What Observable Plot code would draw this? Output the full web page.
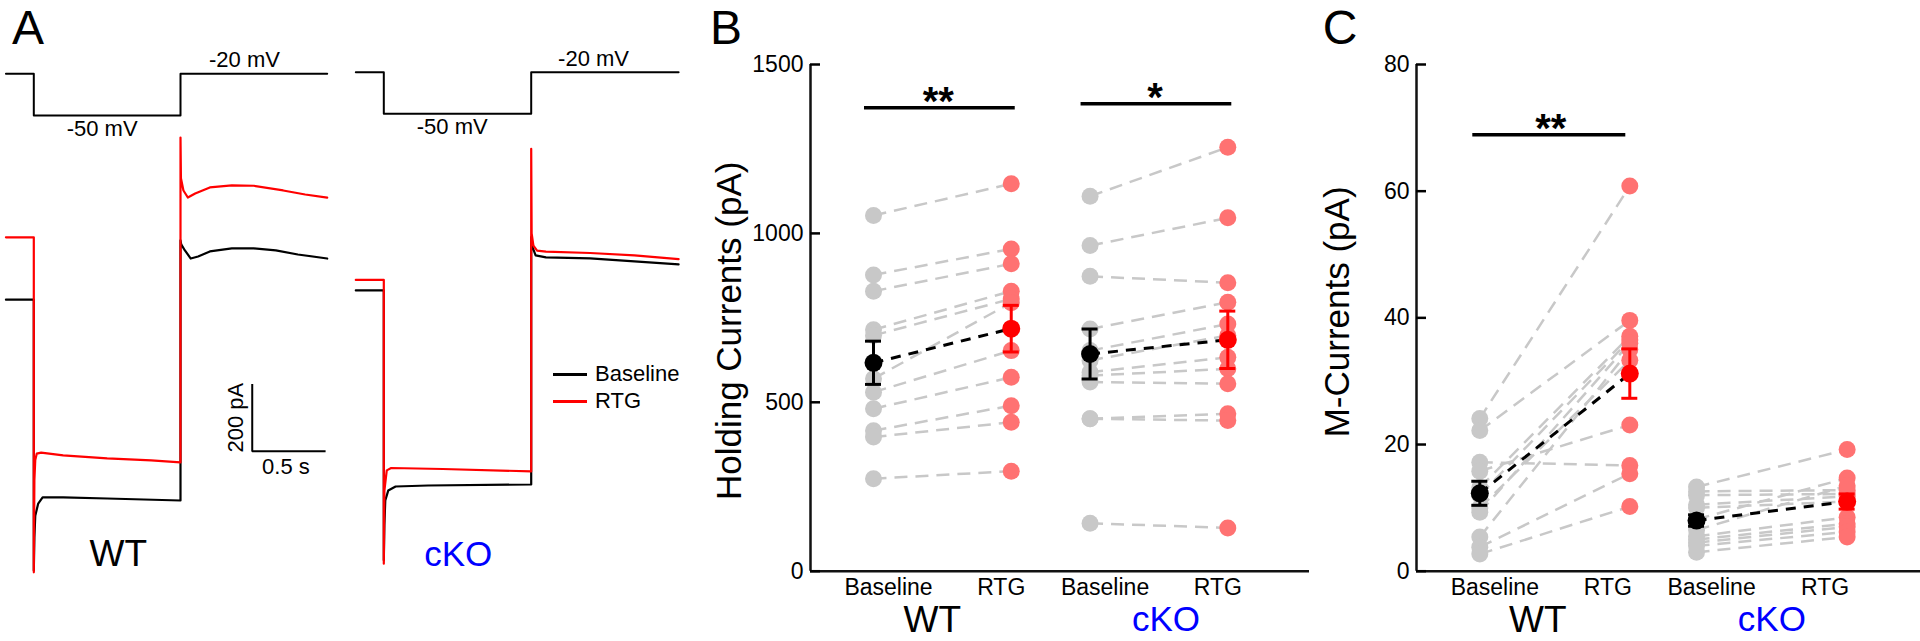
<!DOCTYPE html>
<html><head><meta charset="utf-8">
<script src="https://cdn.jsdelivr.net/npm/d3@7"></script>
<script src="https://cdn.jsdelivr.net/npm/@observablehq/plot@0.6"></script>
<style>
html,body{margin:0;padding:0;background:#fff;}
#fig{position:relative;width:1920px;height:641px;overflow:hidden;font-family:"Liberation Sans",Arial,Helvetica,sans-serif;background:#fff;}
.lbl{position:absolute;line-height:1;white-space:nowrap;}
</style></head><body><div id="fig"></div>
<script>
// ---------------- DATA ----------------
// Panel A: voltage protocol (time s, mV)
const stepProtocol = [[-0.19,-20],[0,-20],[0,-50],[1,-50],[1,-20],[2,-20]];
const stepLabelsWT = [{t:0.466, v:-50, text:"-50 mV"}, {t:1.436, v:-20, text:"-20 mV"}];
const stepLabelsKO = [{t:0.464, v:-50, text:"-50 mV"}, {t:1.423, v:-20, text:"-20 mV"}];
// Panel A: example current traces (time s, current pA)
const wtBaselineTrace = [[-0.19,596],[0,596],[0,-208],[0.004,-110],[0.01,-45],[0.03,-9],[0.06,9],[0.2,9],[0.5,6],[1.0,0],[1.0,772],[1.005,760],[1.03,742],[1.07,718],[1.12,724],[1.2,739],[1.35,748],[1.5,748],[1.65,742],[1.8,730],[2.0,718]];
const wtRtgTrace = [[-0.19,781],[0,781],[0,-213],[0.004,60],[0.01,120],[0.02,139],[0.05,142],[0.2,134],[0.5,125],[0.8,119],[1.0,113],[1.0,1077],[1.003,956],[1.02,920],[1.05,899],[1.1,911],[1.2,929],[1.35,935],[1.5,934],[1.7,920],[1.85,908],[2.0,899]];
const koBaselineTrace = [[-0.19,576],[0,576],[0,-225],[0.004,-120],[0.01,-47],[0.03,-18],[0.08,-6],[0.3,-3],[1.0,0],[1.0,734],[1.005,709],[1.03,680],[1.1,674],[1.4,671],[1.7,662],[2.0,653]];
const koRtgTrace = [[-0.19,607],[0,607],[0,-235],[0.004,-18],[0.02,42],[0.05,49],[0.4,46],[1.0,39],[1.0,996],[1.003,745],[1.015,709],[1.04,694],[1.1,691],[1.4,687],[1.7,680],[2.0,669]];
const scaleBarOrigin = [1.489, 146];
const scaleBarTime = 0.5;      // s
const scaleBarCurrent = 200;   // pA

// Panel B: holding currents (pA)
const holdWTBase = [1053, 877, 829, 715, 698, 570, 530, 481, 416, 397, 274];
const holdWTRtg  = [1147, 954, 910, 829, 806, 795, 653, 574, 490, 441, 296];
const holdKOBase = [1110, 964, 873, 717, 653, 624, 589, 579, 560, 451, 451, 142];
const holdKORtg  = [1255, 1046, 854, 796, 732, 698, 633, 599, 555, 466, 446, 128];
const holdMeans = [617, 718, 643, 685];   // WT Baseline, WT RTG, cKO Baseline, cKO RTG
const holdErrs  = [64, 69, 74, 85];
const holdTicks = [0, 500, 1000, 1500];
const holdSig = [{g:"WT", y:1372, label:"**"}, {g:"cKO", y:1384, label:"*"}];

// Panel C: M-currents (pA)
const mcurWTBase = [24.1, 22.2, 17.2, 15.8, 13.2, 12.0, 10.0, 9.3, 5.4, 3.8, 2.7];
const mcurWTRtg  = [60.8, 39.6, 16.7, 23.1, 37.1, 36.5, 33.3, 36.0, 35.0, 15.4, 10.2];
const mcurKOBase = [13.3, 12.6, 12.0, 10.5, 10.0, 8.2, 6.5, 5.5, 5.0, 4.5, 4.0, 3.0];
const mcurKORtg  = [19.2, 12.8, 12.2, 11.8, 11.0, 14.7, 13.5, 8.5, 7.5, 7.0, 6.2, 5.4];
const mcurMeans = [12.3, 31.2, 8.0, 11.0];
const mcurErrs  = [1.9, 3.9, 0.9, 1.2];
const mcurTicks = [0, 20, 40, 60, 80];
const mcurSig = [{g:"WT", y:68.9, label:"**"}];

const groups = ["WT", "cKO"];
const conditions = ["Baseline", "RTG"];

// ---------------- RENDER ----------------
const FONT = '"Liberation Sans", Arial, Helvetica, sans-serif';
const GRAY = "#c8c8c8", PINK = "#ff7272", RED = "#ff0000", BLUE = "#0000ff";
const fig = document.getElementById("fig");
function add(node){ node.style.position="absolute"; node.style.left="0px"; node.style.top="0px"; fig.appendChild(node); }
function P(opts){
  return Plot.plot(Object.assign({width:1920, height:641, style:{background:"transparent", fontFamily:FONT, overflow:"visible"}}, opts));
}
function label(text, x, y, size, color, align){
  const d = document.createElement("div");
  d.className = "lbl"; d.textContent = text;
  d.style.left = x+"px"; d.style.top = y+"px"; d.style.fontSize = size+"px"; d.style.color = color||"#000";
  d.style.transform = align === "left" ? "translate(0,-50%)" : "translate(-50%,-50%)";
  fig.appendChild(d);
}

// ---- Panel A ----
function stepPlot(mL, mR, mT, mB, labels){
  return P({marginLeft:mL, marginRight:mR, marginTop:mT, marginBottom:mB,
    x:{domain:[-0.19,2.0], axis:null}, y:{domain:[-60,-10], axis:null},
    marks:[
      Plot.line(stepProtocol, {x:d=>d[0], y:d=>d[1], stroke:"black", strokeWidth:2}),
      Plot.text(labels.filter(d=>d.v===-50), {x:"t", y:"v", text:"text", fontSize:22, dy:13.5}),
      Plot.text(labels.filter(d=>d.v===-20), {x:"t", y:"v", text:"text", fontSize:22, dy:-13.5})
    ]});
}
function tracePlot(mL, mR, mT, mB, baseTr, rtgTr, extra){
  return P({marginLeft:mL, marginRight:mR, marginTop:mT, marginBottom:mB,
    x:{domain:[-0.19,2.0], axis:null}, y:{domain:[-250,1150], axis:null},
    marks:[
      Plot.line(baseTr, {x:d=>d[0], y:d=>d[1], stroke:"black", strokeWidth:2.2}),
      Plot.line(rtgTr, {x:d=>d[0], y:d=>d[1], stroke:RED, strokeWidth:2.2}),
      ...(extra||[])
    ]});
}
const [sbT, sbI] = scaleBarOrigin;
const scaleBarMarks = [
  Plot.line([[sbT, sbI+scaleBarCurrent],[sbT, sbI],[sbT+scaleBarTime, sbI]], {x:d=>d[0], y:d=>d[1], stroke:"black", strokeWidth:2, strokeLinejoin:"miter", strokeLinecap:"butt"}),
  Plot.text([scaleBarCurrent+" pA"], {x:()=>sbT, y:()=>sbI+scaleBarCurrent/2, rotate:-90, dx:-16.5, fontSize:22}),
  Plot.text([scaleBarTime+" s"], {x:()=>sbT+scaleBarTime/2, y:()=>sbI, dy:16, dx:-3, fontSize:22})
];
// WT: x = 33.3 + 146.7 t ; y = 500 - 0.337 I
add(stepPlot(5.43, 1920-326.7, 59.4, 641-128.9, stepLabelsWT));
add(tracePlot(5.43, 1920-326.7, 112.45, 641-584.25, wtBaselineTrace, wtRtgTrace, scaleBarMarks));
// cKO: x = 383.3 + 147.4 t ; y = 484 - 0.337 I
add(stepPlot(355.3, 1920-678.1, 57.8, 641-127.2, stepLabelsKO));
add(tracePlot(355.3, 1920-678.1, 96.45, 641-568.25, koBaselineTrace, koRtgTrace));

label("WT", 118.3, 553, 37, "#000");
label("cKO", 458.3, 553, 35, BLUE);
// legend
function swatch(x1, x2, y, color){
  const d = document.createElement("div");
  d.style.position="absolute"; d.style.left=x1+"px"; d.style.top=(y-1.5)+"px";
  d.style.width=(x2-x1)+"px"; d.style.height="3px"; d.style.background=color;
  fig.appendChild(d);
}
swatch(553, 587, 374, "#000"); label(conditions[0], 595, 374, 22, "#000", "left");
swatch(553, 587, 401, RED);    label(conditions[1], 595, 401, 22, "#000", "left");

// ---- Paired panels ----
function paired(cfg){
  const {wtBase, wtRtg, koBase, koRtg, means, errs, ticks, yDomain, pos, xDomain, mL, mR, title, tDx, tDy, sig, sigInsetL, sigInsetR, rtgDx, grpDx} = cfg;
  const cats = groups.flatMap(g => conditions.map(c => g+" "+c));
  const pairs = [...wtBase.map((b,i)=>({g:"WT", b, r:wtRtg[i]})), ...koBase.map((b,i)=>({g:"cKO", b, r:koRtg[i]}))];
  const basePts = pairs.map(p=>({c:p.g+" Baseline", v:p.b}));
  const rtgPts = pairs.map(p=>({c:p.g+" RTG", v:p.r}));
  const meanRows = cats.map((c,i)=>({c, m:means[i], e:errs[i], rtg:c.endsWith("RTG")}));
  const meanPairs = groups.map((g,i)=>({g, b:means[2*i], r:means[2*i+1]}));
  const caps = meanRows.flatMap(d=>[{...d, y:d.m+d.e},{...d, y:d.m-d.e}]);
  const y0 = () => yDomain[0];
  const errMarks = (rtg, color) => [
    Plot.ruleX(meanRows.filter(d=>d.rtg===rtg), {x:d=>pos[d.c], y1:d=>d.m-d.e, y2:d=>d.m+d.e, stroke:color, strokeWidth:3}),
    Plot.ruleY(caps.filter(d=>d.rtg===rtg), {x1:d=>pos[d.c], x2:d=>pos[d.c], y:"y", stroke:color, strokeWidth:3, insetLeft:-8, insetRight:-8}),
  ];
  return P({marginLeft:mL, marginRight:mR, marginTop:64, marginBottom:641-570.7,
    x:{domain:xDomain, axis:null}, y:{domain:yDomain},
    marks:[
      Plot.ruleY([yDomain[0]], {stroke:"#111", strokeWidth:2.5}),
      Plot.ruleX([xDomain[0]], {stroke:"#111", strokeWidth:2.5}),
      Plot.axisY({ticks, tickSize:-10, tickPadding:17, fontSize:23, label:null, strokeWidth:2.5, tickFormat:d=>String(d)}),
      Plot.link(pairs, {x1:d=>pos[d.g+" Baseline"], y1:"b", x2:d=>pos[d.g+" RTG"], y2:"r", stroke:GRAY, strokeWidth:2.5, strokeDasharray:"13,8"}),
      Plot.dot(basePts, {x:d=>pos[d.c], y:"v", r:8.5, fill:GRAY}),
      Plot.dot(rtgPts, {x:d=>pos[d.c], y:"v", r:8.5, fill:PINK}),
      Plot.link(meanPairs, {x1:d=>pos[d.g+" Baseline"], y1:"b", x2:d=>pos[d.g+" RTG"], y2:"r", stroke:"black", strokeWidth:3, strokeDasharray:"10,8"}),
      ...errMarks(false, "black"),
      ...errMarks(true, RED),
      Plot.dot(meanRows.filter(d=>!d.rtg), {x:d=>pos[d.c], y:"m", r:9, fill:"black"}),
      Plot.dot(meanRows.filter(d=>d.rtg), {x:d=>pos[d.c], y:"m", r:9, fill:RED}),
      Plot.ruleY(sig, {x1:d=>pos[d.g+" Baseline"], x2:d=>pos[d.g+" RTG"], y:"y", stroke:"black", strokeWidth:3.5, insetLeft:sigInsetL, insetRight:sigInsetR}),
      Plot.text(sig, {x:d=>(pos[d.g+" Baseline"]+pos[d.g+" RTG"])/2, y:"y", text:"label", fontSize:40, fontWeight:"bold", lineAnchor:"bottom", dy:7, dx:-4}),
      Plot.text(cats.filter(c=>c.endsWith("Baseline")), {x:c=>pos[c], y:y0, text:()=>conditions[0], fontSize:23, dy:16, dx:15}),
      Plot.text(cats.filter(c=>c.endsWith("RTG")), {x:c=>pos[c], y:y0, text:()=>conditions[1], fontSize:23, dy:16, dx:rtgDx}),
      Plot.text(["WT"], {x:g=>(pos[g+" Baseline"]+pos[g+" RTG"])/2, y:y0, fontSize:37, dy:49, dx:grpDx[0], fill:"black"}),
      Plot.text(["cKO"], {x:g=>(pos[g+" Baseline"]+pos[g+" RTG"])/2, y:y0, fontSize:35, dy:49, dx:grpDx[1], fill:BLUE}),
      Plot.text([title], {frameAnchor:"left", textAnchor:"middle", lineAnchor:"middle", rotate:-90, dx:tDx, dy:tDy, fontSize:35})
    ]});
}

add(paired({wtBase:holdWTBase, wtRtg:holdWTRtg, koBase:holdKOBase, koRtg:holdKORtg, means:holdMeans, errs:holdErrs,
  ticks:holdTicks, yDomain:[0,1500], pos:{"WT Baseline":0, "WT RTG":1.003, "cKO Baseline":1.577, "cKO RTG":2.58},
  xDomain:[-0.4588, 3.175], mL:810, mR:1920-1309, title:"Holding Currents (pA)", tDx:-80.5, tDy:13,
  sig:holdSig, sigInsetL:-9, sigInsetR:-4, rtgDx:-10, grpDx:[-10, 7]}));

add(paired({wtBase:mcurWTBase, wtRtg:mcurWTRtg, koBase:mcurKOBase, koRtg:mcurKORtg, means:mcurMeans, errs:mcurErrs,
  ticks:mcurTicks, yDomain:[0,80], pos:{"WT Baseline":0, "WT RTG":1, "cKO Baseline":1.445, "cKO RTG":2.449},
  xDomain:[-0.422, 2.938], mL:1416, mR:0, title:"M-Currents (pA)", tDx:-79, tDy:-6,
  sig:mcurSig, sigInsetL:-7, sigInsetR:4, rtgDx:-22, grpDx:[-17, 0]}));

// panel letters
label("A", 28, 28, 48, "#000");
label("B", 726, 28, 48, "#000");
label("C", 1340, 28, 48, "#000");
</script></body></html>
